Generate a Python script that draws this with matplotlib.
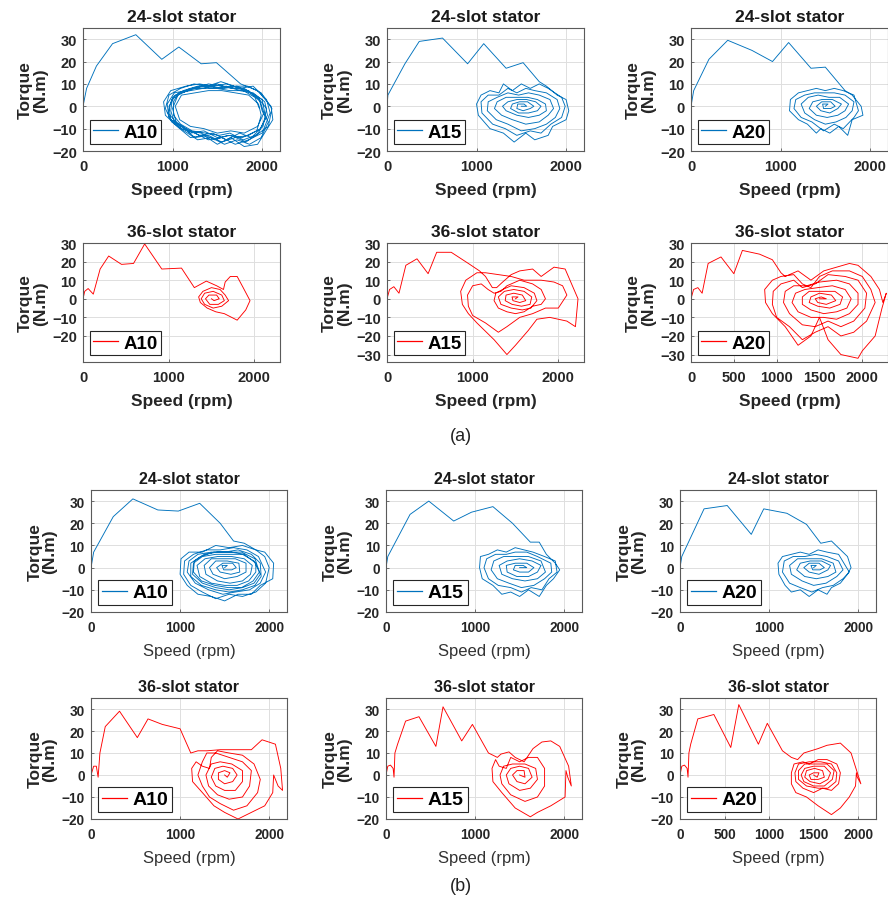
import numpy as np
import matplotlib
matplotlib.use("Agg")
import matplotlib.pyplot as plt
from matplotlib.lines import Line2D

plt.rcParams['font.family'] = ['Liberation Sans', 'DejaVu Sans']

# (speed rpm, torque N.m) trajectories
# ---- (a) ----
a24_A10 = [(0,0),(40,8),(150,18),(330,28),(590,32),(880,21),(1070,26.5),(1320,19),(1490,19.5),(1760,10),(1950,7),
           (2100,0),(2120,-6),(1950,-17),(1800,-18),(1650,-14),(1500,-17),(1350,-13),(1200,-14),(1050,-9),(920,-4),(900,2),
           (980,7),(1150,9),(1300,10),(1450,9),(1600,10),(1750,8),(1900,9),(2050,3),
           (2090,-3),(2000,-12),(1850,-15),(1700,-17),(1550,-14),(1400,-15),(1250,-12),(1100,-10),(960,-5),(940,1),
           (1020,6),(1150,7),(1300,9),(1450,8),(1600,9),(1750,7),(1900,6),(2030,2),
           (2060,-4),(1980,-10),(1850,-13),(1700,-14),(1550,-16),(1400,-13),(1250,-14),(1100,-9),(980,-6),(960,0),
           (1030,5),(1200,8),(1350,8),(1500,10),(1650,8),(1800,8),(1950,4),
           (2050,-1),(2010,-9),(1880,-14),(1750,-12),(1600,-15),(1450,-12),(1300,-13),(1150,-10),(1020,-7),(980,-2),
           (1000,4),(1120,7),(1280,9),(1420,9),(1580,8),(1720,9),(1880,6),(2000,3),
           (2040,-5),(1960,-12),(1820,-16),(1650,-13),(1500,-14),(1350,-11),(1200,-12),(1060,-8),(950,-3),(990,3),
           (1100,6),(1250,8),(1400,10),(1550,9),(1700,8),(1850,7),(1980,2),(2020,-3),
           (1950,-9),(1800,-12),(1650,-11),(1500,-12),(1350,-10),(1200,-9),(1080,-6),(1030,0),(1100,5),(1250,6),
           (1400,7),(1550,7),(1700,6),(1850,5),(1960,1),(1990,-4),
           (1940,-11),(1780,-14),(1620,-13),(1470,-15),(1320,-12),(1180,-11),(1040,-7),(1000,-1),(1060,5),(1220,8),
           (1380,9),(1530,8),(1680,9),(1830,7),(1970,3),(2000,-2),
           (2070,-7),(1990,-14),(1860,-17),(1720,-15),(1580,-17),(1430,-14),(1280,-15),(1130,-11),(990,-7),(920,-1),
           (960,5),(1090,8),(1240,10),(1390,9),(1540,11),(1690,9),(1840,9),(1990,6),(2110,-1),
           (2070,-9),(1930,-13),(1790,-15),(1640,-12),(1520,-13),(1370,-12),(1220,-11),(1090,-8),(1010,-4),(1010,2),
           (1070,6),(1200,7),(1340,8),(1490,8),(1640,7),(1790,7),(1920,4),(1970,-1)]
a24_A15 = [(0,0),(10,5),(200,19),(360,29),(620,30.5),(900,19),(1080,28),(1330,17),(1520,19.5),(1700,11),(1780,9),
           (1900,5),(2000,3),(2030,-2),(2000,-6),(1850,-9),(1800,-13),(1650,-15),(1550,-12),(1420,-16),(1300,-12),
           (1150,-10),(1020,-4),(1000,1),(1050,5),(1150,7),(1250,6),(1300,10),(1400,7),(1500,10),(1600,8),(1700,10),
           (1800,8),(1950,4),
           (1990,0),(1950,-5),(1830,-8),(1720,-12),(1600,-11),(1450,-13),(1320,-10),(1180,-8),(1060,-3),(1050,2),
           (1130,5),(1250,5),(1350,8),(1450,6),(1550,8),(1650,7),(1780,6),(1900,3),
           (1930,-1),(1880,-5),(1780,-8),(1650,-10),(1500,-11),(1350,-8),(1220,-6),(1120,-2),(1130,2),(1230,4),
           (1350,6),(1470,5),(1580,6),(1700,5),(1820,3),
           (1860,-1),(1800,-4),(1700,-7),(1550,-8),(1400,-6),(1280,-4),(1200,-1),(1230,2),(1330,4),(1450,4),
           (1570,4),(1680,3),(1770,1),
           (1780,-2),(1700,-4),(1580,-5),(1450,-4),(1330,-2),(1290,0),(1350,2),(1450,3),(1560,3),(1660,2),(1720,0),
           (1680,-2),(1580,-3),(1470,-3),(1380,-1),(1400,1),(1480,2),(1570,2),(1640,0),
           (1600,-1),(1520,-2),(1450,-1),(1460,1),(1530,1),(1560,0),(1500,0)]
a24_A20 = [(0,0),(30,7),(200,21),(410,29.5),(680,25),(910,20),(1090,28.5),(1340,17),(1500,17.5),(1720,7),(1800,5),
           (1900,0),(1920,-4),(1800,-6),(1750,-13),(1650,-9),(1550,-12),(1450,-10),(1400,-12),(1300,-8),(1200,-6),
           (1100,-2),(1110,3),(1200,6),(1300,7),(1400,8),(1500,7),(1600,8),(1700,7),(1820,5),
           (1870,-2),(1820,-5),(1700,-10),(1600,-8),(1480,-11),(1350,-7),(1230,-5),(1150,-1),(1170,3),(1270,5),
           (1380,6),(1480,6),(1600,6),(1720,5),(1820,2),
           (1800,-2),(1730,-5),(1620,-7),(1500,-8),(1380,-6),(1270,-3),(1230,1),(1310,4),(1420,5),(1540,4),
           (1660,4),(1760,1),
           (1720,-2),(1640,-4),(1520,-5),(1400,-4),(1320,-1),(1360,2),(1460,3),(1580,3),(1680,1),
           (1640,-1),(1550,-3),(1450,-2),(1400,0),(1460,2),(1560,2),(1610,0),
           (1560,-1),(1480,-1),(1470,1),(1530,1),(1500,0)]
a36_A10 = [(0,0),(20,4),(60,5.5),(120,2.5),(200,16),(300,23),(450,18.5),(590,19),(720,29.5),(920,16),(1150,16.5),
           (1300,6),(1440,9.5),(1560,7),(1640,5),(1660,9),(1720,12),(1800,12),(1870,6),(1950,-1),(1900,-6),
           (1800,-11.5),(1650,-8),(1550,-7),(1450,-5),(1370,-2),(1350,1),(1400,4),(1500,6),(1600,5),(1660,2),
           (1700,-1),(1620,-4),(1520,-5),(1420,-3),(1380,0),(1420,3),(1520,4),(1620,2),(1650,-1),(1580,-3),
           (1480,-3),(1430,0),(1470,2),(1560,2),(1590,0),(1530,-1),(1500,0)]
a36_A15 = [(0,0),(30,5),(80,6.5),(140,3),(220,18),(350,21.5),(480,13.5),(580,25),(750,25),(950,19),(1080,15),
           (1150,12),(1230,6),(1280,6),(1350,9),(1450,13),(1550,15),(1700,16),(1800,12),(1950,17),(2080,16),
           (2230,0),(2200,-15),(2100,-12),(1900,-10),(1750,-11),(1650,-17),(1500,-25),(1400,-30),(1250,-22),
           (1050,-13),(950,-8),(880,-3),(860,4),(920,10),(1050,14),(1150,14),(1300,13),(1450,12),(1600,10),
           (1800,10),(1950,9),(2050,7),(2100,2),(2000,-5),(1850,-5),(1700,-8),(1550,-10),(1400,-15),(1300,-18),
           (1150,-13),(1000,-9),(950,-4),(940,2),(1000,7),(1100,8),(1180,5),(1250,3),(1330,4),(1400,7),(1550,10),
           (1700,8),(1800,5),(1850,0),(1800,-3),(1700,-4),(1600,-7),(1500,-8),(1400,-7),(1300,-5),(1250,-1),
           (1270,3),(1350,5),(1450,7),(1600,6),(1720,3),(1750,-1),(1680,-5),(1580,-6),(1450,-5),(1330,-3),
           (1300,1),(1370,4),(1480,5),(1600,4),(1690,1),(1670,-3),(1570,-4),(1460,-3),(1380,-1),(1390,2),
           (1480,3),(1580,2),(1620,-1),(1550,-2),(1470,-1),(1460,1),(1530,1),(1500,0)]
a36_A20 = [(0,0),(30,5),(80,6),(130,3),(200,19),(350,22.5),(500,13.5),(600,26),(800,24),(950,21),(1050,14),
           (1100,12),(1250,15),(1400,10),(1550,15),(1700,17),(1850,19),(1950,18),(2100,12),(2200,5),(2240,-2),
           (2280,3),(2230,-5),(2150,-20),(2000,-28),(1950,-32),(1750,-30),(1600,-22),(1500,-10),(1400,-20),
           (1250,-25),(1100,-15),(950,-8),(870,-2),(860,5),(950,10),(1050,12),(1200,13),(1300,8),(1400,6),
           (1500,12),(1650,15),(1850,15),(2000,12),(2100,5),(2150,-2),(2050,-12),(1900,-18),(1750,-20),
           (1600,-15),(1450,-18),(1300,-22),(1150,-15),(1000,-10),(950,-3),(960,4),(1050,8),(1200,10),(1300,6),
           (1450,8),(1600,13),(1800,12),(1950,10),(2050,3),(2030,-5),(1900,-12),(1750,-15),(1600,-12),
           (1450,-15),(1300,-14),(1150,-8),(1080,-2),(1100,4),(1200,7),(1350,7),(1500,9),(1700,10),(1850,8),
           (1950,3),(1950,-3),(1850,-8),(1700,-11),(1550,-10),(1400,-10),(1250,-7),(1180,-2),(1220,3),(1330,5),
           (1480,6),(1650,7),(1800,5),(1870,0),(1820,-5),(1700,-7),(1550,-8),(1400,-6),(1300,-3),(1300,1),
           (1380,4),(1520,4),(1680,4),(1770,1),(1740,-3),(1620,-5),(1480,-4),(1380,-2),(1400,1),(1500,3),
           (1640,2),(1690,-1),(1580,-3),(1480,-2),(1450,0),(1520,1),(1580,0),(1500,0)]
# ---- (b) ----
b24_A10 = [(0,0),(30,7),(250,23),(470,31),(750,26),(980,25.5),(1220,29),(1450,20),(1600,12),(1720,11),
           (1850,8),(1950,7),(2050,2),(2040,-5),(1900,-8),(1800,-12),(1650,-12),(1500,-15),(1350,-13),(1200,-12),
           (1080,-8),(1000,-3),(1010,4),(1100,7),(1250,7),(1400,10),(1550,9),(1700,10),(1850,8),(1950,5),
           (2000,0),(1960,-7),(1850,-11),(1700,-13),(1550,-12),(1400,-14),(1250,-11),(1120,-8),(1040,-3),(1050,3),
           (1150,6),(1300,8),(1450,8),(1600,9),(1750,8),(1880,5),
           (1960,-2),(1900,-7),(1780,-10),(1620,-11),(1480,-12),(1320,-10),(1170,-7),(1080,-2),(1100,3),(1200,6),
           (1350,7),(1500,7),(1650,8),(1800,6),(1900,2),
           (1910,-4),(1840,-8),(1700,-10),(1550,-11),(1400,-10),(1240,-8),(1120,-4),(1120,2),(1230,5),(1380,7),
           (1530,7),(1690,7),(1840,4),
           (1900,-3),(1830,-7),(1700,-9),(1550,-10),(1400,-9),(1250,-7),(1140,-3),(1150,2),(1250,5),(1400,6),
           (1550,6),(1700,6),(1830,3),
           (1890,-2),(1820,-6),(1690,-9),(1540,-9),(1390,-8),(1240,-6),(1150,-2),(1160,3),(1270,6),(1420,7),
           (1570,7),(1720,6),(1850,2),
           (1850,-2),(1770,-6),(1640,-8),(1500,-8),(1350,-7),(1220,-4),(1190,1),(1280,4),(1420,5),(1580,5),
           (1720,4),(1810,1),
           (1790,-3),(1700,-6),(1560,-7),(1420,-6),(1290,-3),(1270,1),(1350,4),(1480,4),(1620,4),(1740,2),
           (1740,-2),(1640,-4),(1500,-5),(1370,-3),(1330,0),(1400,3),(1530,3),(1660,2),
           (1670,-2),(1570,-3),(1450,-2),(1410,0),(1480,2),(1590,2),(1630,0),
           (1580,-1),(1490,-1),(1470,1),(1530,1),(1500,0)]
b24_A15 = [(0,0),(20,5),(270,24),(480,30),(760,21),(960,25),(1200,27.5),(1420,20),(1620,11.5),(1720,11.5),(1800,6),
           (1900,2),(1950,-1),(1880,-5),(1800,-8),(1720,-13),(1600,-10),(1500,-13),(1400,-11),(1300,-12),
           (1200,-8),(1080,-5),(1050,0),(1060,5),(1150,6),(1250,8),(1350,7),(1450,9),(1550,8),(1650,7),(1780,5),
           (1900,3),
           (1920,-2),(1830,-5),(1750,-10),(1630,-9),(1520,-11),(1400,-9),(1260,-8),(1150,-5),(1100,0),(1130,4),
           (1230,6),(1350,6),(1450,7),(1580,7),(1700,5),(1850,2),
           (1860,-2),(1780,-5),(1660,-8),(1520,-9),(1380,-7),(1250,-5),(1180,-1),(1210,3),(1320,5),(1460,5),
           (1600,5),(1740,3),
           (1790,-2),(1700,-5),(1560,-6),(1420,-5),(1300,-3),(1270,1),(1360,3),(1500,4),(1640,3),(1740,1),
           (1700,-2),(1600,-4),(1470,-4),(1360,-2),(1350,1),(1450,2),(1580,2),(1660,0),
           (1600,-2),(1500,-2),(1430,-1),(1450,1),(1540,1),(1580,0),(1500,0)]
b24_A20 = [(0,0),(20,5),(270,26.5),(530,28),(800,15),(940,26.5),(1200,24.5),(1420,19.5),(1580,11),(1700,12),
           (1880,5),(1920,0),(1880,-3),(1800,-7),(1700,-9),(1650,-12),(1550,-10),(1450,-13),(1350,-10),
           (1250,-11),(1180,-8),(1110,-3),(1100,2),(1150,5),(1250,6),(1350,7),(1450,6),(1550,8),(1650,7),(1780,6),
           (1900,-2),(1830,-5),(1720,-8),(1600,-9),(1480,-11),(1350,-9),(1230,-7),(1150,-2),(1170,3),(1270,5),
           (1400,5),(1520,6),(1650,5),(1780,3),
           (1830,-1),(1760,-4),(1640,-7),(1500,-8),(1370,-6),(1250,-3),(1230,1),(1320,4),(1450,4),(1590,4),
           (1720,2),
           (1750,-2),(1660,-4),(1530,-5),(1400,-4),(1310,-1),(1350,2),(1460,3),(1590,3),(1690,1),
           (1660,-1),(1560,-3),(1450,-2),(1390,0),(1450,2),(1560,2),(1620,0),
           (1570,-1),(1490,-1),(1470,1),(1530,1),(1500,0)]
b36_A10 = [(0,0),(30,4),(60,4),(80,-1),(100,10),(160,22),(320,29),(520,17),(640,25.5),(800,23),(1000,21),
           (1120,10),(1200,11),(1300,11),(1450,11.5),(1600,11.5),(1800,11.5),(1920,16),(2070,14),(2130,3),
           (2150,-7),(2100,-5),(2050,0),(2040,-8),(1950,-14),(1800,-17),(1650,-20),(1500,-17),(1380,-14),
           (1250,-8),(1140,-3),(1130,3),(1180,6),(1250,4),(1330,3),(1350,8),(1420,11),(1550,10),(1700,9),
           (1830,5),(1900,-2),(1870,-8),(1750,-14),(1600,-16),(1450,-13),(1330,-10),(1250,-5),(1200,0),
           (1250,6),(1300,10),(1400,10),(1550,8),(1700,6),(1800,2),(1780,-5),(1700,-10),(1550,-11),(1420,-9),
           (1320,-5),(1290,0),(1350,5),(1450,6),(1580,5),(1700,2),(1700,-3),(1620,-7),(1500,-7),(1400,-5),
           (1350,-1),(1390,3),(1480,4),(1590,3),(1640,0),(1590,-3),(1500,-4),(1430,-2),(1430,1),(1500,2),
           (1560,1),(1530,-1),(1500,0)]
b36_A15 = [(0,0),(20,4),(50,4.5),(80,3),(90,-1),(100,10),(130,14),(220,24.5),(370,26.5),(560,13),(640,31),
           (850,15.5),(970,23),(1150,10),(1250,8),(1290,9.5),(1380,10.5),(1450,8),(1550,6),(1650,12),(1750,15),
           (1850,15.5),(1950,13),(2050,4),(2080,-5),(2040,-1),(2020,2),(2010,-10),(1850,-14),(1700,-17),
           (1620,-19),(1450,-15),(1300,-8),(1200,-3),(1190,3),(1230,7),(1270,4),(1350,3),(1400,8),(1500,6),
           (1600,8),(1700,8),(1780,3),(1780,-5),(1700,-10),(1560,-12),(1400,-9),(1300,-4),(1280,0),(1320,4),
           (1420,5),(1560,5),(1680,3),(1700,-2),(1620,-6),(1500,-7),(1380,-4),(1350,0),(1400,3),(1500,4),
           (1600,3),(1640,-1),(1560,-4),(1470,-3),(1420,0),(1470,2),(1550,2),(1560,-1),(1500,0)]
b36_A20 = [(0,0),(20,4),(50,4.5),(80,3),(90,-1),(100,10),(120,14),(200,25.5),(380,27.5),(570,12.5),(660,32),
           (880,14),(980,23.5),(1150,11),(1250,8),(1320,7),(1390,10),(1550,12),(1650,13.5),(1800,14.5),
           (1920,10),(2030,-4),(1990,-1),(1980,1),(1970,-5),(1900,-10),(1800,-15),(1700,-18),(1550,-14),
           (1420,-10),(1300,-8),(1250,-4),(1250,1),(1280,5),(1380,6),(1450,5),(1550,7),(1650,7),(1760,5),
           (1800,1),(1780,-4),(1700,-7),(1600,-6),(1500,-8),(1380,-6),(1300,-3),(1290,1),(1330,5),(1450,6),
           (1580,6),(1700,5),(1760,1),(1750,-3),(1660,-6),(1550,-6),(1420,-5),(1330,-2),(1330,2),(1400,5),
           (1520,5),(1650,5),(1730,2),(1710,-2),(1620,-5),(1500,-5),(1390,-3),(1360,0),(1400,3),(1500,4),
           (1620,4),(1690,1),(1660,-2),(1570,-4),(1460,-3),(1400,-1),(1420,2),(1510,3),(1600,2),(1620,-1),
           (1550,-2),(1470,-2),(1450,0),(1500,1),(1560,1),(1540,-1),(1500,0)]

blue = '#0072BD'
red = '#FF0000'

W, H = 888, 903
fig = plt.figure(figsize=(W / 100, H / 100), dpi=100)

# (data, colour, title, legend, left px, top px, width px, height px, xmax, ymin, yticks, xticks, part)
panels = [
    (a24_A10, blue, '24-slot stator', 'A10', 83, 29, 197, 123, 2200, -20, range(-20, 31, 10), [0, 1000, 2000], 'a'),
    (a24_A15, blue, '24-slot stator', 'A15', 387, 29, 197, 123, 2200, -20, range(-20, 31, 10), [0, 1000, 2000], 'a'),
    (a24_A20, blue, '24-slot stator', 'A20', 691, 29, 197, 123, 2200, -20, range(-20, 31, 10), [0, 1000, 2000], 'a'),
    (a36_A10, red, '36-slot stator', 'A10', 83, 244, 197, 119, 2300, -34, range(-20, 31, 10), [0, 1000, 2000], 'a'),
    (a36_A15, red, '36-slot stator', 'A15', 387, 244, 197, 119, 2300, -34, range(-30, 31, 10), [0, 1000, 2000], 'a'),
    (a36_A20, red, '36-slot stator', 'A20', 691, 244, 197, 119, 2300, -34, range(-30, 31, 10), [0, 500, 1000, 1500, 2000], 'a'),
    (b24_A10, blue, '24-slot stator', 'A10', 91, 491, 196, 122, 2200, -20, range(-20, 31, 10), [0, 1000, 2000], 'b'),
    (b24_A15, blue, '24-slot stator', 'A15', 386, 491, 196, 122, 2200, -20, range(-20, 31, 10), [0, 1000, 2000], 'b'),
    (b24_A20, blue, '24-slot stator', 'A20', 680, 491, 196, 122, 2200, -20, range(-20, 31, 10), [0, 1000, 2000], 'b'),
    (b36_A10, red, '36-slot stator', 'A10', 91, 699, 196, 121, 2200, -20, range(-20, 31, 10), [0, 1000, 2000], 'b'),
    (b36_A15, red, '36-slot stator', 'A15', 386, 699, 196, 121, 2200, -20, range(-20, 31, 10), [0, 1000, 2000], 'b'),
    (b36_A20, red, '36-slot stator', 'A20', 680, 699, 196, 121, 2200, -20, range(-20, 31, 10), [0, 500, 1000, 1500, 2000], 'b'),
]

for data, col, title, leg, l, t, w, h, xmax, ymin, yt, xt, part in panels:
    ax = fig.add_axes([l / W, 1 - (t + h) / H, w / W, h / H])
    pts = np.array(data)
    ax.plot(pts[:, 0], pts[:, 1], color=col, lw=0.65)
    ax.set_xlim(0, xmax)
    ax.set_ylim(ymin, 35 if ymin == -20 else 30)
    ax.set_xticks(xt)
    ax.set_yticks(list(yt))
    ax.grid(True, color='#dedede', lw=0.7)
    ax.set_axisbelow(True)
    for s in ax.spines.values():
        s.set_color('#5a5a5a')
        s.set_linewidth(0.8)
    tsize = 10.5 if part == 'a' else 9.8
    ax.tick_params(direction='in', length=2.5, width=0.6, colors='#5a5a5a',
                   labelcolor='#262626', labelsize=tsize)
    ax.tick_params(axis='x', pad=6)
    ax.tick_params(axis='y', pad=4.5)
    for lab in ax.get_xticklabels() + ax.get_yticklabels():
        lab.set_fontweight('bold')
    if part == 'a':
        ax.set_title(title, fontsize=12.5, fontweight='bold', pad=5, color='#1a1a1a')
        ax.set_xlabel('Speed (rpm)', fontsize=12.5, fontweight='bold', color='#262626', labelpad=6)
    else:
        ax.set_title(title, fontsize=11.5, fontweight='bold', pad=5, color='#1a1a1a')
        ax.set_xlabel('Speed (rpm)', fontsize=12, color='#333333', labelpad=6)
    ax.set_ylabel('Torque\n(N.m)', fontsize=12.5, fontweight='bold', color='#262626',
                  linespacing=1.0, labelpad=3)
    handle = Line2D([], [], color=col, lw=0.9)
    lg = ax.legend([handle], [leg], loc='lower left', fancybox=False, framealpha=1, edgecolor='#262626',
                   prop={'weight': 'bold', 'size': 13.5 if part == 'a' else 14},
                   handlelength=1.3, handletextpad=0.3, borderpad=0.2, borderaxespad=0.35)
    lg.get_frame().set_linewidth(0.8)

fig.text(461 / W, 1 - 437 / H, '(a)', ha='center', va='center', fontsize=13, color='#222222')
fig.text(461 / W, 1 - 887 / H, '(b)', ha='center', va='center', fontsize=13, color='#222222')

fig.savefig('out.png', dpi=100)
